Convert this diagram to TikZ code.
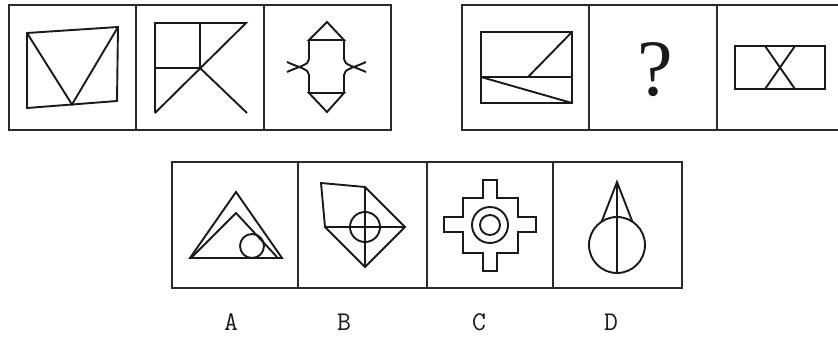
\documentclass[tikz,border=0pt]{standalone}
\usepackage{fontspec}
\newfontfamily\askfont{Liberation Serif}
\definecolor{figink}{HTML}{1A1A1A}
\definecolor{frameink}{HTML}{2A2A2A}
\usetikzlibrary{calc}
\tikzset{
  framebox/.style={draw=frameink, line width=2.2pt},
  figline/.style={draw=figink, line width=1.9pt, line join=miter},
  optlabel/.style={font=\ttfamily\fontsize{27}{27}\selectfont,
                   text=figink, inner sep=0pt},
  asklabel/.style={font=\askfont\fontsize{80}{80}\selectfont,
                   text=figink, inner sep=0pt}
}

\begin{document}
\begin{tikzpicture}[x=1pt, y=-1pt]
  \useasboundingbox (0,0) rectangle (838,342);

  % frames
  \draw[framebox] (9,5) rectangle (391,130);
  \foreach \x in {136,264}
    \draw[framebox] (\x,5) -- (\x,130);
  \draw[framebox] (838,5) -- (462,5) -- (462,130) -- (838,130);
  \foreach \x in {589,717}
    \draw[framebox] (\x,5) -- (\x,130);
  \draw[framebox] (172,162) rectangle (682,288);
  \foreach \x in {298,427,553}
    \draw[framebox] (\x,162) -- (\x,288);

  % row 1, panel 1
  \draw[figline] (27,33) -- (118,27) -- (117,101) -- (27,108) -- cycle;
  \draw[figline] (27,33) -- (72,104.5) -- (118,27);

  % row 1, panel 2
  \draw[figline] (155,113) -- (155,23) -- (246,23) -- (155,113);
  \draw[figline] (200,23) -- (200,68) -- (155,68);
  \draw[figline] (200,68) -- (247,113);

  % row 1, panel 3
  \draw[figline] (309,40) -- (327,22) -- (344,40) -- cycle;
  \draw[figline] (309,93) -- (327,112) -- (344,93) -- cycle;
  \draw[figline] (309,40) -- (309,59) .. controls (309,65) and (300,66) .. (287,72);
  \draw[figline] (309,93) -- (309,75) .. controls (309,69) and (300,68) .. (287,62);
  \draw[figline] (344,40) -- (344,59) .. controls (344,65) and (353,66) .. (366,72);
  \draw[figline] (344,93) -- (344,75) .. controls (344,69) and (353,68) .. (366,62);

  % row 2, panel 1
  \draw[figline] (481,32) rectangle (572,103);
  \draw[figline] (481,77) -- (572,77);
  \draw[figline] (528,77) -- (572,32);
  \draw[figline] (481,77) -- (572,103);

  % row 2, panel 2
  \node[asklabel] (ask) at (655,70) {?};

  % row 2, panel 3
  \draw[figline] (735,46) rectangle (825,89);
  \draw[figline] (765,46) -- (795,89);
  \draw[figline] (795,46) -- (765,89);

  % option A
  \draw[figline] (190,258) -- (236,192) -- (282,258) -- cycle;
  \draw[figline] (192,257) -- (236,213) -- (277,257);
  \draw[figline] (252,246) circle (12);

  % option B
  \draw[figline] (321,183) -- (365,187) -- (405,227) -- (365,267) -- (325,227) -- cycle;
  \draw[figline] (325,227) -- (405,227);
  \draw[figline] (365,187) -- (365,267);
  \draw[figline] (365,227) circle (15);

  % option C
  \draw[figline] (483,180) -- (497,180) -- (497,198) -- (518,198) -- (518,217)
    -- (536,217) -- (536,232) -- (518,232) -- (518,253) -- (497,253)
    -- (497,271) -- (483,271) -- (483,253) -- (463,253) -- (463,232)
    -- (444,232) -- (444,217) -- (463,217) -- (463,198) -- (483,198) -- cycle;
  \draw[figline] (490,225) circle (18);
  \draw[figline] (490,225) circle (10);

  % option D
  \draw[figline] (617,245) circle (28);
  \draw[figline] (601.5,222) -- (617,182) -- (632.5,222);
  \draw[figline] (617,182) -- (617,273);

  % option letters
  \node[optlabel] (labA) at (231,322) {A};
  \node[optlabel] (labB) at (344,322) {B};
  \node[optlabel] (labC) at (479,322) {C};
  \node[optlabel] (labD) at (611,322) {D};
\end{tikzpicture}
\end{document}
